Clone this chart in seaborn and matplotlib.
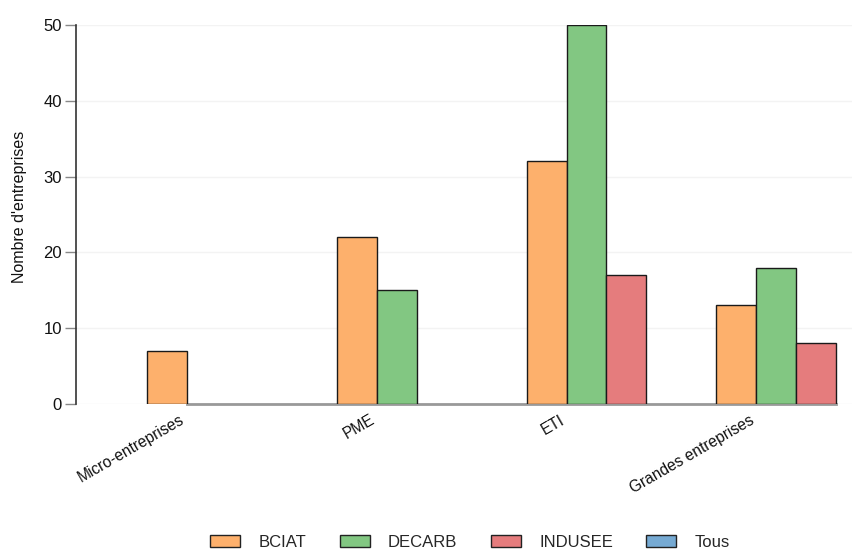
import matplotlib
matplotlib.use("Agg")
import matplotlib.pyplot as plt
from matplotlib.patches import Patch
import pandas as pd
import seaborn as sns

# values
categories = ["Micro-entreprises", "PME", "ETI", "Grandes entreprises"]
programmes = ["BCIAT", "DECARB", "INDUSEE", "Tous"]
bciat = [7, 22, 32, 13]
decarb = [0, 15, 50, 18]
indusee = [0, 0, 17, 8]
tous = [0, 0, 0, 0]
colors = ["#fdb06c", "#82c782", "#e57c7d", "#76aad3"]

rows = []
for prog, vals in zip(programmes, [bciat, decarb, indusee, tous]):
    for cat, v in zip(categories, vals):
        rows.append({"taille": cat, "programme": prog, "n": v})
df = pd.DataFrame(rows)

sns.set_style("white")
plt.rcParams["font.family"] = ["Liberation Sans", "DejaVu Sans"]
plt.rcParams["font.size"] = 11

fig = plt.figure(figsize=(8.53, 5.51), dpi=100)
ax = fig.add_axes([0.0891, 0.2668, 0.9109, 0.6878])

sns.barplot(data=df, x="taille", y="n", hue="programme", order=categories,
            hue_order=programmes, palette=colors, saturation=1, width=0.84,
            edgecolor="#1a1a1a", linewidth=1, legend=False, ax=ax, zorder=3)

# zero-height bars should not draw a dark line on the axis
for p in ax.patches:
    if p.get_height() == 0:
        p.set_linewidth(0)

ax.set_xlim(-0.796, 3.30)
ax.set_ylim(0, 50)
ax.set_yticks([0, 10, 20, 30, 40, 50])
ax.yaxis.grid(True, color="#f3f3f3", lw=1, zorder=0)
ax.xaxis.grid(False)

# category ticks sit at the right edge of the BCIAT bar
bc = ax.containers[0]
ticks = [p.get_x() + p.get_width() for p in bc]
ax.set_xticks(ticks)
ax.set_xticklabels(categories, rotation=30, ha="right", fontsize=11.2, color="#111111")
ax.tick_params(axis="x", length=0, pad=6)
ax.tick_params(axis="y", left=True, length=8, width=1, color="#888888",
               labelsize=12, labelcolor="#111111", pad=2)

ind = ax.containers[2]
last = ind[len(ind) - 1]
for s in ["top", "right"]:
    ax.spines[s].set_visible(False)
ax.spines["left"].set_color("#333333")
ax.spines["left"].set_linewidth(1.2)
ax.spines["bottom"].set_color("#999999")
ax.spines["bottom"].set_linewidth(2)
ax.spines["bottom"].set_bounds(ticks[0], last.get_x() + last.get_width())

ax.set_xlabel("")
ax.set_ylabel("Nombre d'entreprises", fontsize=11.5, color="#111111")
ax.yaxis.set_label_coords(-0.063, 0.52)

handles = [Patch(facecolor=c, edgecolor="#222222", linewidth=1) for c in colors]
fig.legend(handles, programmes, loc="center", bbox_to_anchor=(0.551, 0.016),
           ncol=4, frameon=False, handlelength=1.8, handleheight=0.8,
           handletextpad=1.1, columnspacing=2.0, fontsize=12)

fig.savefig("out.png", dpi=100)
